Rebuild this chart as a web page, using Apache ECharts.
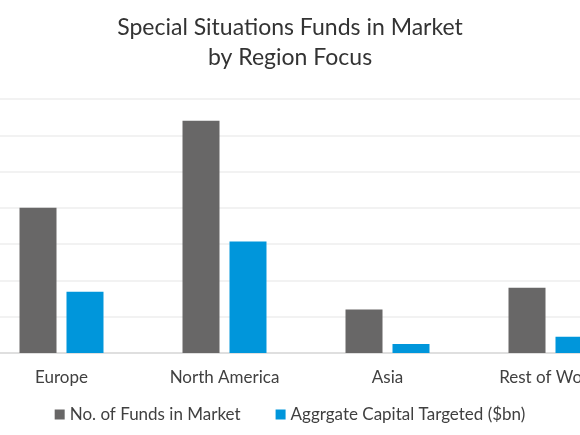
<!DOCTYPE html>
<html>
<head>
<meta charset="utf-8">
<script src="https://cdn.jsdelivr.net/npm/echarts@6/dist/echarts.min.js"></script>
<style>
  html, body { margin: 0; padding: 0; background: #fff; }
  #chart { width: 580px; height: 435px; }
</style>
</head>
<body>
<div id="chart"></div>
<script>
var regions = ['Europe', 'North America', 'Asia', 'Rest of World'];
var fundsInMarket = [40, 64, 12, 18];
var capitalTargeted = [16.9, 30.7, 2.5, 4.5];
var seriesNames = ['No. of Funds in Market', 'Aggrgate Capital Targeted ($bn)'];

var myChart = echarts.init(document.getElementById('chart'));

var font = 'Lato, "Noto Sans", sans-serif';

var option = {
    animation: false,
    color: ['#686767', '#0096db'],
    title: {
        text: 'Special Situations Funds in Market\nby Region Focus',
        left: 'center',
        top: 8,
        textStyle: {
            fontFamily: font,
            fontSize: 23,
            fontWeight: 'normal',
            color: '#333',
            lineHeight: 30
        }
    },
    legend: {
        data: seriesNames,
        top: 401,
        left: 'center',
        icon: 'rect',
        itemWidth: 10,
        itemHeight: 10,
        itemGap: 35,
        textStyle: {
            fontFamily: font,
            fontSize: 17,
            color: '#404040'
        }
    },
    grid: {
        left: -20,
        right: -52,
        top: 99,
        bottom: 82,
        containLabel: false,
        outerBoundsMode: 'none'
    },
    xAxis: {
        type: 'category',
        data: regions,
        axisLine: { lineStyle: { color: '#d9d9d9', width: 1.5 } },
        axisTick: { show: false },
        axisLabel: {
            margin: 16,
            fontFamily: font,
            fontSize: 17,
            color: '#404040'
        }
    },
    yAxis: {
        type: 'value',
        min: 0,
        max: 70,
        interval: 10,
        axisLine: { show: false },
        axisTick: { show: false },
        axisLabel: { show: false },
        splitLine: { lineStyle: { color: '#eeeeee', width: 1.5 } }
    },
    series: [
        {
            name: seriesNames[0],
            type: 'bar',
            barWidth: 37,
            barGap: '27%',
            data: fundsInMarket
        },
        {
            name: seriesNames[1],
            type: 'bar',
            barWidth: 37,
            barGap: '27%',
            data: capitalTargeted
        }
    ]
};
myChart.setOption(option);
</script>
</body>
</html>
